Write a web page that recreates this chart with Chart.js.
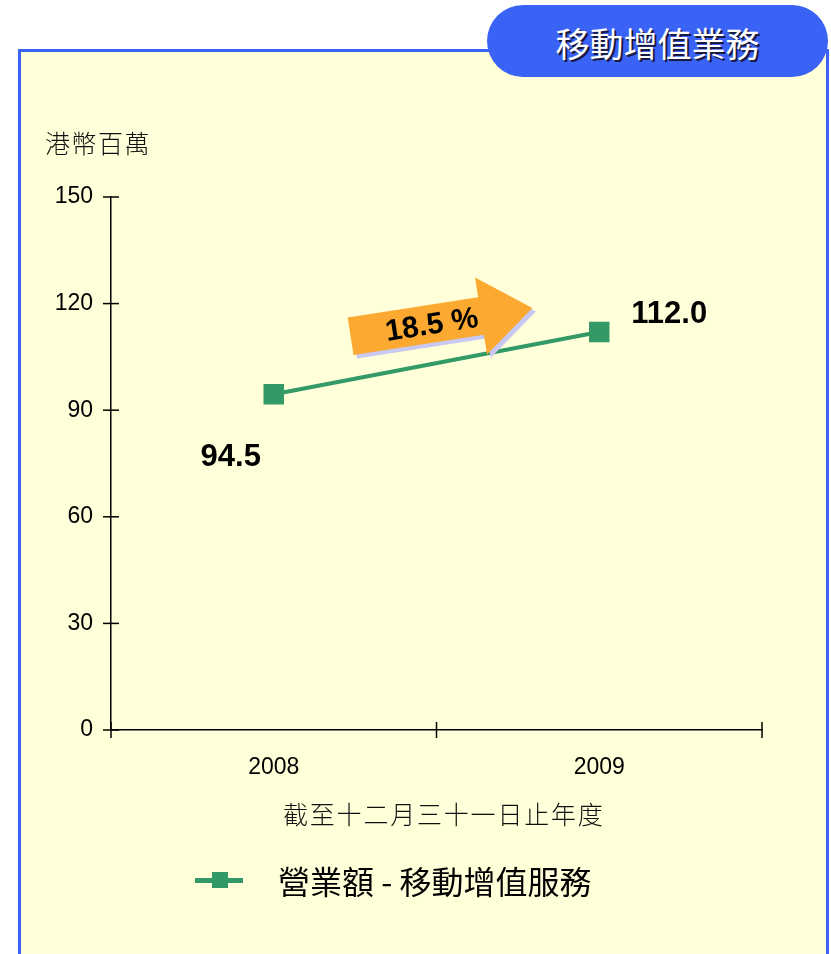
<!DOCTYPE html>
<html>
<head>
<meta charset="utf-8">
<script src="https://cdn.jsdelivr.net/npm/chart.js@4.4.1/dist/chart.umd.min.js"></script>
<style>
  html, body { margin: 0; padding: 0; background: #ffffff; }
  body { width: 831px; height: 954px; position: relative; overflow: hidden; }
  #panel {
    position: absolute; left: 18px; top: 49px; width: 805px; height: 920px;
    background: #ffffd9; border: 3px solid #3a62f5;
  }
  #pill {
    position: absolute; left: 487px; top: 5px; width: 341px; height: 72px;
    background: #3a62f5; border-radius: 36px;
    color: #fff; font-family: "Noto Sans CJK TC", sans-serif; font-size: 34px;
    line-height: 76px; text-align: center; text-shadow: 2px 2px 0 #1a1a40;
  }
  #chartBox { position: absolute; left: 0; top: 0; width: 831px; height: 954px; }
  .txt { position: absolute; color: #111; font-family: "Noto Sans CJK TC", sans-serif; white-space: nowrap; }
  #unit { left: 45px; top: 125px; font-size: 25px; font-weight: 300; line-height: 34px; letter-spacing: 1.5px; }
  #xtitle { left: 283px; top: 796px; font-size: 25px; font-weight: 300; line-height: 34px; letter-spacing: 1.8px; }
  #legend { left: 195px; top: 860px; height: 40px; }
  #legLine { position: absolute; left: 0; top: 18px; width: 48px; height: 5px; background: #339966; }
  #legBox { position: absolute; left: 17px; top: 12px; width: 16px; height: 16px; background: #339966; }
  #legText { position: absolute; left: 83px; top: 0; font-size: 32px; line-height: 40px; color: #000; }
</style>
</head>
<body>
<div id="panel"></div>
<div id="pill">移動增值業務</div>
<div id="chartBox"><canvas id="chart" width="831" height="954"></canvas></div>
<div class="txt" id="unit">港幣百萬</div>
<div class="txt" id="xtitle">截至十二月三十一日止年度</div>
<div class="txt" id="legend"><div id="legLine"></div><div id="legBox"></div><div id="legText"></div></div>
<script>
// Chart data
const years = ['2008', '2009'];
const revenue = [94.5, 112.0];
const seriesName = '營業額 - 移動增值服務';
const yTicks = [0, 30, 60, 90, 120, 150];
const growthText = '18.5 %';

document.getElementById('legText').textContent = seriesName;

// Ticks crossing the axes, value labels and growth arrow
const extras = {
    id: 'extras',
    afterDraw(chart) {
        const ctx = chart.ctx;
        const area = chart.chartArea;
        const xs = chart.scales.x;
        const ys = chart.scales.y;

        ctx.save();
        ctx.strokeStyle = '#000';
        ctx.lineWidth = 1.5;
        yTicks.forEach(v => {
            const y = ys.getPixelForValue(v);
            ctx.beginPath();
            ctx.moveTo(area.left - 8, y);
            ctx.lineTo(area.left + 8, y);
            ctx.stroke();
        });
        const step = (area.right - area.left) / years.length;
        for (let i = 0; i <= years.length; i++) {
            const x = area.left + i * step;
            ctx.beginPath();
            ctx.moveTo(x, area.bottom - 8);
            ctx.lineTo(x, area.bottom + 8);
            ctx.stroke();
        }

        // value labels
        ctx.fillStyle = '#000';
        ctx.font = 'bold 31px "Liberation Sans", Arial, sans-serif';
        ctx.textAlign = 'center';
        ctx.textBaseline = 'middle';
        const p0 = { x: xs.getPixelForValue(0), y: ys.getPixelForValue(revenue[0]) };
        const p1 = { x: xs.getPixelForValue(1), y: ys.getPixelForValue(revenue[1]) };
        ctx.fillText(revenue[0].toFixed(1), p0.x - 43, p0.y + 63);
        ctx.fillText(revenue[1].toFixed(1), p1.x + 70, p1.y - 18);

        // growth arrow
        const cx = (p0.x + p1.x) / 2 + 5;
        const cy = (p0.y + p1.y) / 2 - 41;
        ctx.translate(cx, cy);
        ctx.rotate(-8.8 * Math.PI / 180);
        const shape = () => {
            ctx.beginPath();
            ctx.moveTo(-92, -19);
            ctx.lineTo(40, -19);
            ctx.lineTo(40, -39);
            ctx.lineTo(92, 0);
            ctx.lineTo(40, 39);
            ctx.lineTo(40, 19);
            ctx.lineTo(-92, 19);
            ctx.closePath();
        };
        ctx.save();
        ctx.translate(3, 4);
        shape();
        ctx.fillStyle = '#c8c8f2';
        ctx.fill();
        ctx.restore();
        shape();
        ctx.fillStyle = '#fba931';
        ctx.fill();
        ctx.fillStyle = '#000';
        ctx.font = 'bold 30px "Liberation Sans", Arial, sans-serif';
        ctx.fillText(growthText, -10, 2);
        ctx.restore();
    }
};

new Chart(document.getElementById('chart'), {
    type: 'line',
    data: {
        labels: years,
        datasets: [{
            label: seriesName,
            data: revenue,
            borderColor: '#339966',
            backgroundColor: '#339966',
            borderWidth: 4,
            pointStyle: 'rect',
            pointRadius: 14.5,
            pointBorderWidth: 0,
            fill: false,
            tension: 0
        }]
    },
    options: {
        responsive: false,
        animation: false,
        layout: { padding: { left: 0, top: 197, right: 69, bottom: 0 } },
        plugins: { legend: { display: false }, tooltip: { enabled: false } },
        scales: {
            x: {
                offset: true,
                grid: { display: false },
                border: { display: true, color: '#000', width: 1.5 },
                ticks: { color: '#000', padding: 16, font: { family: 'Liberation Sans', size: 23 } },
                afterFit: s => { s.height = 224; }
            },
            y: {
                min: 0,
                max: 150,
                afterBuildTicks: s => { s.ticks = yTicks.map(v => ({ value: v })); },
                grid: { display: false },
                border: { display: true, color: '#000', width: 1.5 },
                ticks: { color: '#000', padding: 10, font: { family: 'Liberation Sans', size: 23 } },
                afterFit: s => { s.width = 111; }
            }
        }
    },
    plugins: [extras]
});
</script>
</body>
</html>
